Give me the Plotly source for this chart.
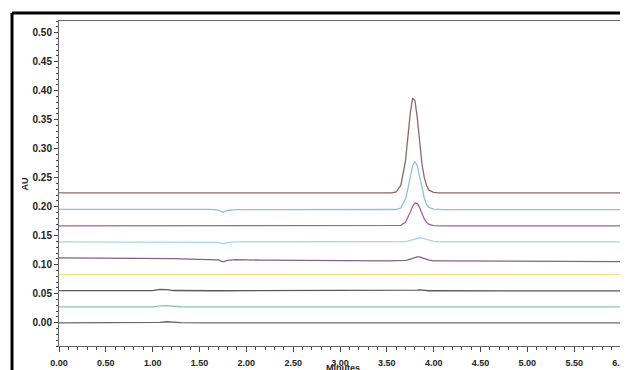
import plotly.graph_objects as go

# Retention time grid (minutes)
time_min = [0.00, 1.00, 1.08, 1.15, 1.22, 1.30, 1.62, 1.70, 1.75, 1.80, 1.88, 2.15,
            3.50, 3.55, 3.60, 3.65, 3.70, 3.725, 3.75, 3.775, 3.80, 3.825, 3.85,
            3.875, 3.90, 3.925, 3.95, 4.00, 4.05, 4.10, 6.00]

# Absorbance (AU) of each overlaid chromatogram, bottom to top
trace_1 = [0.0, 0.0, 0.0008, 0.0018, 0.0012, 0.0002, 0.0, 0.0, 0.0, 0.0, 0.0, 0.0,
           0.0, 0.0, 0.0, 0.0, 0.0, 0.0, 0.0, 0.0, 0.0, 0.0, 0.0,
           0.0, 0.0, 0.0, 0.0, 0.0, 0.0, 0.0, 0.0]
trace_2 = [0.0275, 0.0275, 0.0290, 0.0295, 0.0285, 0.0276, 0.0275, 0.0275, 0.0275, 0.0275, 0.0275, 0.0275,
           0.0275, 0.0275, 0.0275, 0.0275, 0.0275, 0.0275, 0.0275, 0.0275, 0.0275, 0.0275, 0.0275,
           0.0275, 0.0275, 0.0275, 0.0275, 0.0275, 0.0275, 0.0275, 0.0275]
trace_3 = [0.0555, 0.0555, 0.0575, 0.0573, 0.0556, 0.0553, 0.0552, 0.0552, 0.0552, 0.0552, 0.0552, 0.0552,
           0.0552, 0.0552, 0.0552, 0.0552, 0.0552, 0.0552, 0.0552, 0.0552, 0.0553, 0.0562, 0.0566,
           0.0561, 0.0553, 0.0552, 0.0552, 0.0552, 0.0552, 0.0552, 0.0550]
trace_4 = [0.0833, 0.0833, 0.0833, 0.0833, 0.0833, 0.0833, 0.0833, 0.0833, 0.0833, 0.0833, 0.0833, 0.0833,
           0.0833, 0.0833, 0.0833, 0.0833, 0.0833, 0.0833, 0.0833, 0.0833, 0.0833, 0.0833, 0.0833,
           0.0833, 0.0833, 0.0833, 0.0833, 0.0833, 0.0833, 0.0833, 0.0833]
trace_5 = [0.1118, 0.1116, 0.1115, 0.1113, 0.1105, 0.1102, 0.1098, 0.1085, 0.1050, 0.1075, 0.1088, 0.1080,
           0.1068, 0.1068, 0.1068, 0.1069, 0.1074, 0.1082, 0.1095, 0.1110, 0.1127, 0.1137, 0.1136,
           0.1124, 0.1106, 0.1090, 0.1078, 0.1068, 0.1066, 0.1066, 0.1055]
trace_6 = [0.1395, 0.1395, 0.1395, 0.1395, 0.1395, 0.1395, 0.1395, 0.1385, 0.1362, 0.1382, 0.1393, 0.1393,
           0.1393, 0.1393, 0.1394, 0.1396, 0.1401, 0.1407, 0.1418, 0.1432, 0.1447, 0.1460, 0.1465,
           0.1460, 0.1447, 0.1432, 0.1418, 0.1402, 0.1396, 0.1394, 0.1393]
trace_7 = [0.167, 0.167, 0.167, 0.167, 0.167, 0.167, 0.167, 0.167, 0.167, 0.167, 0.167, 0.167,
           0.167, 0.167, 0.167, 0.1679, 0.1736, 0.1807, 0.1904, 0.2004, 0.2064, 0.2057, 0.1985,
           0.1884, 0.179, 0.173, 0.1696, 0.1674, 0.167, 0.167, 0.167]
trace_8 = [0.1953, 0.1953, 0.1953, 0.1953, 0.1953, 0.1953, 0.1953, 0.1940, 0.1905, 0.1935, 0.1950, 0.1950,
           0.1950, 0.1950, 0.1952, 0.198, 0.2138, 0.231, 0.2523, 0.2706, 0.278, 0.2706, 0.2523,
           0.231, 0.215, 0.204, 0.1987, 0.1957, 0.195, 0.195, 0.195]
trace_9 = [0.224, 0.224, 0.224, 0.224, 0.224, 0.224, 0.224, 0.224, 0.224, 0.224, 0.224, 0.224,
           0.224, 0.224, 0.2255, 0.237, 0.280, 0.320, 0.361, 0.387, 0.383, 0.353, 0.312,
           0.274, 0.250, 0.236, 0.2285, 0.2248, 0.224, 0.224, 0.224]

series = [trace_1, trace_2, trace_3, trace_4, trace_5, trace_6, trace_7, trace_8, trace_9]
colors = ["#6d6570", "#8cc9a0", "#5a5868", "#f3e27a", "#84608f",
          "#a6d8e6", "#9a66a0", "#8cc2da", "#8e6868"]

x_ticks = [0.0, 0.5, 1.0, 1.5, 2.0, 2.5, 3.0, 3.5, 4.0, 4.5, 5.0, 5.5, 6.0]
y_ticks = [0.00, 0.05, 0.10, 0.15, 0.20, 0.25, 0.30, 0.35, 0.40, 0.45, 0.50]

fig = go.Figure()
for vals, col in zip(series, colors):
    fig.add_trace(go.Scatter(x=time_min, y=vals, mode="lines",
                             line=dict(color=col, width=1.3),
                             showlegend=False, hoverinfo="skip"))

font_family = "Liberation Sans, Arial, sans-serif"
xtickfont = dict(family=font_family, size=9, color="#222222", weight="bold")
ytickfont = dict(family=font_family, size=10, color="#222222", weight="bold")

# The page body has an 8px margin, so the figure is sized to fill the 628x370 window exactly.
fig.update_layout(
    width=620, height=362,
    margin=dict(l=51, r=7, t=13, b=24),
    paper_bgcolor="white", plot_bgcolor="white",
    xaxis=dict(range=[0, 6], tickvals=x_ticks, ticktext=[f"{v:.2f}" for v in x_ticks],
               automargin=False,
               showgrid=False, zeroline=False, showline=True, linecolor="#666666",
               linewidth=1, mirror=True, ticks="outside", ticklen=5, tickcolor="#444444",
               tickfont=xtickfont, ticklabeloverflow="allow", ticklabelstandoff=3,
               minor=dict(ticks="outside", ticklen=3, dtick=0.1, tick0=0, tickcolor="#444444")),
    yaxis=dict(range=[-0.04, 0.52], tickvals=y_ticks, ticktext=[f"{v:.2f}" for v in y_ticks],
               automargin=False,
               showgrid=False, zeroline=False, showline=True, linecolor="#666666",
               linewidth=1, mirror=True, ticks="outside", ticklen=4, tickcolor="#444444",
               tickfont=ytickfont,
               minor=dict(ticks="outside", ticklen=2, dtick=0.01, tick0=0, tickcolor="#444444")),
    annotations=[
        dict(text="<b>AU</b>", xref="paper", yref="paper", x=-0.0605, y=0.50,
             showarrow=False, textangle=-90, xanchor="center", yanchor="middle",
             font=dict(family=font_family, size=9, color="#222222")),
        dict(text="<b>Minutes</b>", xref="paper", yref="paper", x=0.505, y=-0.069,
             showarrow=False, xanchor="center", yanchor="middle",
             font=dict(family=font_family, size=9, color="#222222")),
    ],
    shapes=[
        dict(type="line", xref="paper", yref="paper", x0=-0.0836, x1=1.05, y0=1.0246, y1=1.0246,
             line=dict(color="black", width=3)),
        dict(type="line", xref="paper", yref="paper", x0=-0.0836, x1=-0.0836, y0=1.0246, y1=-0.12,
             line=dict(color="black", width=3)),
        dict(type="line", xref="paper", yref="paper", x0=1.0, x1=1.0, y0=0, y1=1,
             line=dict(color="#888888", width=2)),
    ],
)

fig.write_html("out.html")
